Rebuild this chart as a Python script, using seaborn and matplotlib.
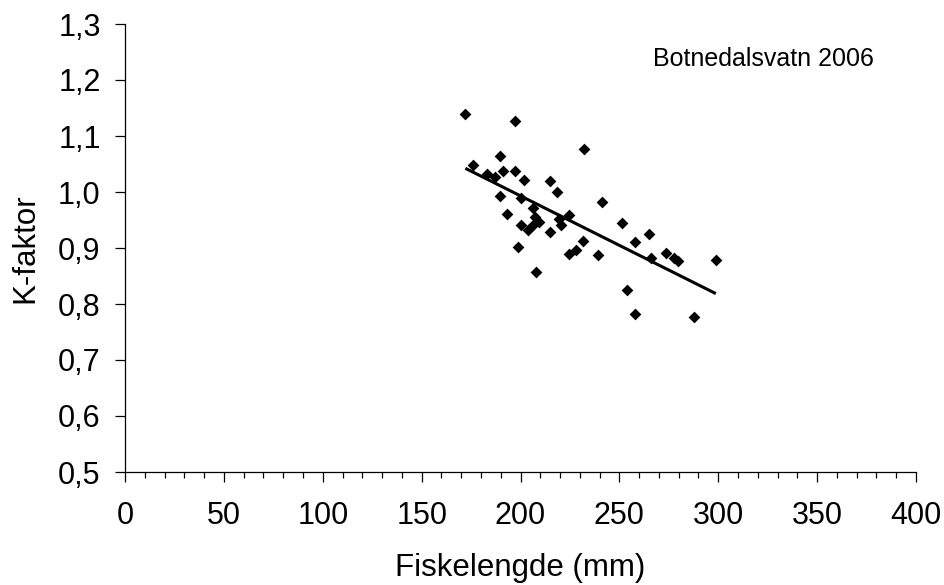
import numpy as np
import pandas as pd
import matplotlib
matplotlib.use("Agg")
import matplotlib.pyplot as plt
from matplotlib.ticker import MultipleLocator, FuncFormatter
import seaborn as sns

# Fish length (mm) and condition factor, Botnedalsvatn 2006
lengde = [172.1, 197.0, 232.3, 189.4, 175.9, 183.0, 186.9, 191.0, 197.0, 202.0,
          215.0, 218.4, 189.4, 200.0, 206.2, 193.1, 207.1, 209.6, 224.7, 219.7,
          200.3, 203.7, 206.2, 215.0, 220.5, 198.6, 224.7, 228.1, 231.5, 207.6,
          241.3, 251.2, 265.2, 257.9, 239.0, 266.0, 273.6, 277.8, 279.5, 298.8,
          253.9, 257.9, 287.5]
k_faktor = [1.140, 1.126, 1.076, 1.065, 1.049, 1.032, 1.027, 1.037, 1.037, 1.021,
            1.019, 1.000, 0.992, 0.990, 0.971, 0.961, 0.956, 0.947, 0.959, 0.951,
            0.941, 0.932, 0.941, 0.928, 0.941, 0.902, 0.890, 0.896, 0.913, 0.858,
            0.983, 0.945, 0.925, 0.910, 0.888, 0.883, 0.891, 0.882, 0.876, 0.879,
            0.825, 0.782, 0.776]

tittel = "Botnedalsvatn 2006"
x_navn = "Fiskelengde (mm)"
y_navn = "K-faktor"

df = pd.DataFrame({"lengde": lengde, "k": k_faktor})

sns.set_theme(style="white")
plt.rcParams["font.family"] = ["Liberation Sans", "DejaVu Sans"]

fig = plt.figure(figsize=(9.44, 5.85), dpi=100)
ax = fig.add_axes([125 / 944, 1 - 472 / 585, (916 - 125) / 944, (472 - 24) / 585])

# scatter of the individual fish plus the least-squares line
sns.regplot(data=df, x="lengde", y="k", ax=ax, ci=None, marker="D",
            color="black",
            scatter_kws={"s": 36, "linewidths": 0, "alpha": 1},
            line_kws={"lw": 2.2, "solid_capstyle": "butt"})

ax.set_xlim(0, 400)
ax.set_ylim(0.5, 1.3)
ax.xaxis.set_major_locator(MultipleLocator(50))
ax.xaxis.set_minor_locator(MultipleLocator(10))
ax.yaxis.set_major_locator(MultipleLocator(0.1))
ax.yaxis.set_major_formatter(FuncFormatter(lambda v, p: f"{v:.1f}".replace(".", ",")))

for s in ["top", "right"]:
    ax.spines[s].set_visible(False)
for s in ["left", "bottom"]:
    ax.spines[s].set_color("black")
    ax.spines[s].set_linewidth(0.9)

ax.tick_params(axis="both", which="major", direction="out", length=7, width=0.9,
               color="black", labelsize=22, labelcolor="black",
               bottom=True, left=True)
ax.tick_params(axis="x", which="major", pad=14)
ax.tick_params(axis="y", which="major", pad=10.5)
ax.tick_params(axis="x", which="minor", direction="out", length=4.5, width=0.9,
               color="black", bottom=True)

ax.set_xlabel(x_navn, fontsize=22.5, color="black", labelpad=16)
ax.set_ylabel(y_navn, fontsize=22.5, color="black", labelpad=13)

ax.text(763 / 944, 1 - 59 / 585, tittel, transform=fig.transFigure,
        ha="center", va="center", fontsize=18, color="black")

fig.savefig("out.png", dpi=100, facecolor="white")
